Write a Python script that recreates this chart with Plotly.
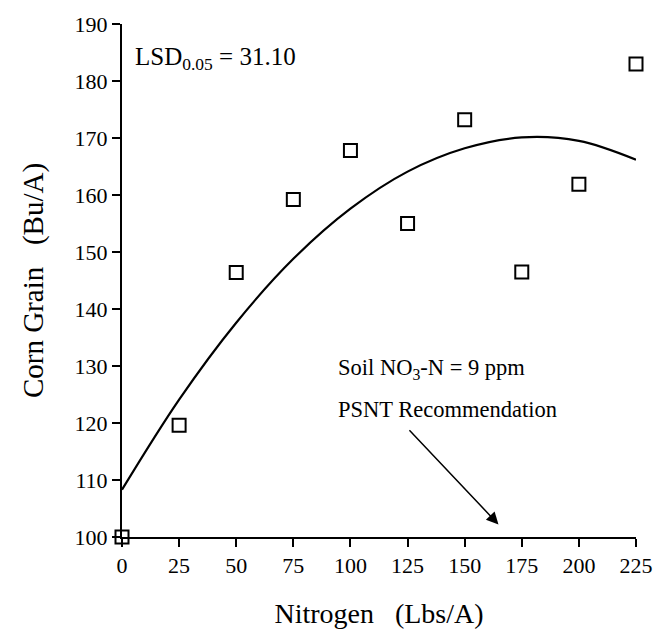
import plotly.graph_objects as go

# Observed yields
nitrogen = [0, 25, 50, 75, 100, 125, 150, 175, 200, 225]
yield_obs = [100.0, 119.6, 146.4, 159.2, 167.8, 155.0, 173.2, 146.5, 161.9, 183.0]

# Fitted response curve
curve_n = [0, 25, 50, 75, 100, 125, 150, 175, 200, 225]
curve_y = [108.3, 124.1, 137.6, 148.8, 157.6, 164.1, 168.2, 170.1, 169.5, 166.2]

x_ticks = [0, 25, 50, 75, 100, 125, 150, 175, 200, 225]
y_ticks = [100, 110, 120, 130, 140, 150, 160, 170, 180, 190]

FONT = "Liberation Serif"

fig = go.Figure()
fig.add_trace(go.Scatter(
    x=curve_n, y=curve_y, mode="lines",
    line=dict(color="black", width=2.2, shape="spline", smoothing=1.0),
    showlegend=False, hoverinfo="skip"))
fig.add_trace(go.Scatter(
    x=nitrogen, y=yield_obs, mode="markers",
    marker=dict(symbol="square-open", size=13, color="black",
                line=dict(width=2, color="black")),
    cliponaxis=False, showlegend=False))

fig.update_layout(
    width=665, height=636,
    margin=dict(l=122, r=20, t=20, b=96),
    paper_bgcolor="white", plot_bgcolor="white",
    font=dict(family=FONT, color="black", size=20),
    xaxis=dict(range=[0, 225], tickvals=x_ticks, showgrid=False, zeroline=False,
               showline=True, linecolor="black", linewidth=2,
               ticks="outside", ticklen=8, tickwidth=1.5, tickcolor="black",
               tickfont=dict(size=22, family=FONT),
               title=dict(text="Nitrogen   (Lbs/A)", font=dict(size=28, family=FONT), standoff=26)),
    yaxis=dict(range=[100, 190], tickvals=y_ticks, showgrid=False, zeroline=False,
               showline=True, linecolor="black", linewidth=2,
               ticks="outside", ticklen=8, tickwidth=1.5, tickcolor="black",
               tickfont=dict(size=22, family=FONT),
               title=dict(text="Corn Grain   (Bu/A)", font=dict(size=29, family=FONT), standoff=22)),
)

fig.add_annotation(x=4.7, y=184.0, xref="x", yref="y", xanchor="left", yanchor="middle",
                   text="LSD<sub>0.05</sub> = 31.10", showarrow=False,
                   font=dict(size=25, family=FONT, color="black"))
fig.add_annotation(x=93.8, y=129.5, xref="x", yref="y", xanchor="left", yanchor="middle",
                   text="Soil NO<sub>3</sub>-N = 9 ppm", showarrow=False,
                   font=dict(size=22.5, family=FONT, color="black"))
fig.add_annotation(x=93.8, y=122.4, xref="x", yref="y", xanchor="left", yanchor="middle",
                   text="PSNT Recommendation", showarrow=False,
                   font=dict(size=22.5, family=FONT, color="black"))
fig.add_annotation(x=164.8, y=102.2, ax=125.2, ay=119.0, xref="x", yref="y",
                   axref="x", ayref="y", text="", showarrow=True,
                   arrowhead=2, arrowsize=1.6, arrowwidth=1.5, arrowcolor="black")

fig.write_html("out.html", config={"displayModeBar": False},
               post_script="document.body.style.margin='0';document.body.style.overflow='hidden';")
